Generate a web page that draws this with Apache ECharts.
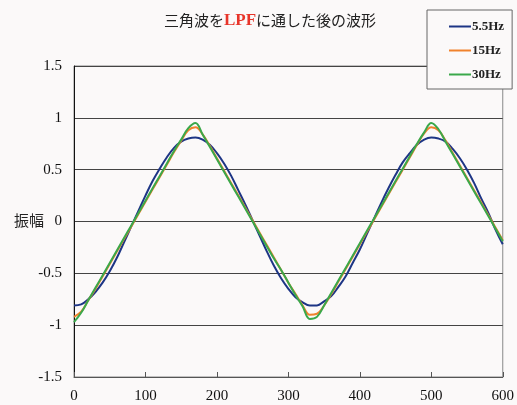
<!DOCTYPE html>
<html>
<head>
<meta charset="utf-8">
<script src="https://cdn.jsdelivr.net/npm/echarts@6/dist/echarts.min.js"></script>
<style>
html, body { margin: 0; padding: 0; background: #fbf9f9; }
#chart { width: 517px; height: 405px; }
</style>
</head>
<body>
<div id="chart"></div>
<script>
// Sample times (x) and filtered triangle-wave amplitudes for three cutoff frequencies
const times = [0,10,20,30,40,50,60,70,80,90,100,110,120,130,140,150,160,170,180,190,200,
  210,220,230,240,250,260,270,280,290,300,310,320,330,340,350,360,370,380,390,400,
  410,420,430,440,450,460,470,480,490,500,510,520,530,540,550,560,570,580,590,600];

const seriesNames = ['5.5Hz', '15Hz', '30Hz'];

const wave55 = [-0.81,-0.80,-0.75,-0.68,-0.59,-0.48,-0.35,-0.20,-0.05,0.10,0.25,
  0.39,0.51,0.62,0.71,0.77,0.80,0.81,0.79,0.74,0.66,
  0.56,0.44,0.30,0.16,0.01,-0.14,-0.29,-0.43,-0.55,-0.65,
  -0.73,-0.78,-0.81,-0.81,-0.77,-0.72,-0.63,-0.53,-0.40,-0.27,
  -0.12,0.03,0.18,0.32,0.45,0.57,0.66,0.74,0.79,0.81,
  0.80,0.77,0.70,0.61,0.50,0.37,0.22,0.08,-0.08,-0.22];

const wave15 = [-0.92,-0.87,-0.76,-0.65,-0.53,-0.41,-0.29,-0.17,-0.05,0.07,0.19,
  0.31,0.43,0.55,0.67,0.78,0.88,0.91,0.84,0.73,0.61,
  0.49,0.37,0.25,0.13,0.01,-0.11,-0.23,-0.35,-0.47,-0.59,
  -0.70,-0.81,-0.90,-0.89,-0.81,-0.70,-0.58,-0.46,-0.34,-0.22,
  -0.10,0.02,0.14,0.26,0.38,0.50,0.62,0.74,0.85,0.91,
  0.88,0.78,0.66,0.54,0.42,0.30,0.18,0.06,-0.06,-0.18];

const wave30 = [-0.97,-0.88,-0.76,-0.64,-0.52,-0.40,-0.28,-0.16,-0.04,0.08,0.20,
  0.32,0.44,0.56,0.68,0.79,0.90,0.95,0.84,0.72,0.60,
  0.48,0.36,0.24,0.12,0.00,-0.12,-0.24,-0.36,-0.47,-0.59,
  -0.71,-0.82,-0.94,-0.92,-0.81,-0.69,-0.57,-0.45,-0.33,-0.21,
  -0.09,0.03,0.15,0.27,0.39,0.51,0.63,0.75,0.86,0.95,
  0.89,0.77,0.65,0.53,0.41,0.29,0.17,0.05,-0.07,-0.19];

const xTicks = [0, 600, 100];      // min, max, interval
const yTicks = [-1.5, 1.5, 0.5];   // min, max, interval

const colors = ['#1d3585', '#f0822c', '#3aa84a'];
const serif = '"Liberation Serif", "Noto Serif", serif';

const pairs = arr => times.map((t, i) => [t, arr[i]]);
const values = [wave55, wave15, wave30];

const chart = echarts.init(document.getElementById('chart'), null, { renderer: 'canvas' });

chart.setOption({
  backgroundColor: '#fbf9f9',
  animation: false,
  title: {
    text: '三角波を{r|LPF}に通した後の波形',
    left: 265,
    top: 7,
    textAlign: 'center',
    textStyle: {
      fontFamily: '"Noto Sans CJK JP", sans-serif',
      fontSize: 15,
      fontWeight: 'normal',
      color: '#222',
      rich: {
        r: {
          fontFamily: serif,
          fontSize: 17,
          fontWeight: 'bold',
          color: '#e8352a'
        }
      }
    }
  },
  legend: {
    orient: 'vertical',
    left: 427,
    top: 10,
    width: 78,
    padding: [10, 8, 8, 22],
    itemGap: 11,
    itemWidth: 22,
    itemHeight: 2,
    icon: 'rect',
    backgroundColor: '#fbf9f9',
    borderColor: '#666',
    borderWidth: 1,
    textStyle: { fontFamily: serif, fontSize: 13, fontWeight: 'bold', color: '#222', padding: [0, 0, 0, -4] },
    data: seriesNames
  },
  grid: {
    left: 74,
    right: 12,
    top: 66,
    bottom: 28,
    show: true,
    borderColor: '#888',
    borderWidth: 1,
    backgroundColor: 'transparent'
  },
  xAxis: {
    type: 'value',
    min: xTicks[0],
    max: xTicks[1],
    interval: xTicks[2],
    axisLine: { show: true, onZero: false, lineStyle: { color: '#555' } },
    axisTick: { show: true, inside: true, length: 5, lineStyle: { color: '#555' } },
    splitLine: { show: false },
    axisLabel: { fontFamily: serif, fontSize: 15, color: '#111', margin: 12 }
  },
  yAxis: {
    type: 'value',
    min: yTicks[0],
    max: yTicks[1],
    interval: yTicks[2],
    axisLine: { show: true, lineStyle: { color: '#111' } },
    axisTick: { show: false },
    splitLine: { show: true, lineStyle: { color: '#444', width: 1 } },
    axisLabel: { fontFamily: serif, fontSize: 15, color: '#111', margin: 12 }
  },
  graphic: [{
    type: 'text',
    left: 14,
    top: 213,
    style: {
      text: '振幅',
      font: '15px "Noto Sans CJK JP", sans-serif',
      fill: '#222'
    }
  }],
  series: seriesNames.map((name, k) => ({
    name,
    type: 'line',
    data: pairs(values[k]),
    smooth: 0.4,
    symbol: 'none',
    z: 3 + k,
    lineStyle: { color: colors[k], width: 2 },
    itemStyle: { color: colors[k] }
  }))
});
</script>
</body>
</html>
